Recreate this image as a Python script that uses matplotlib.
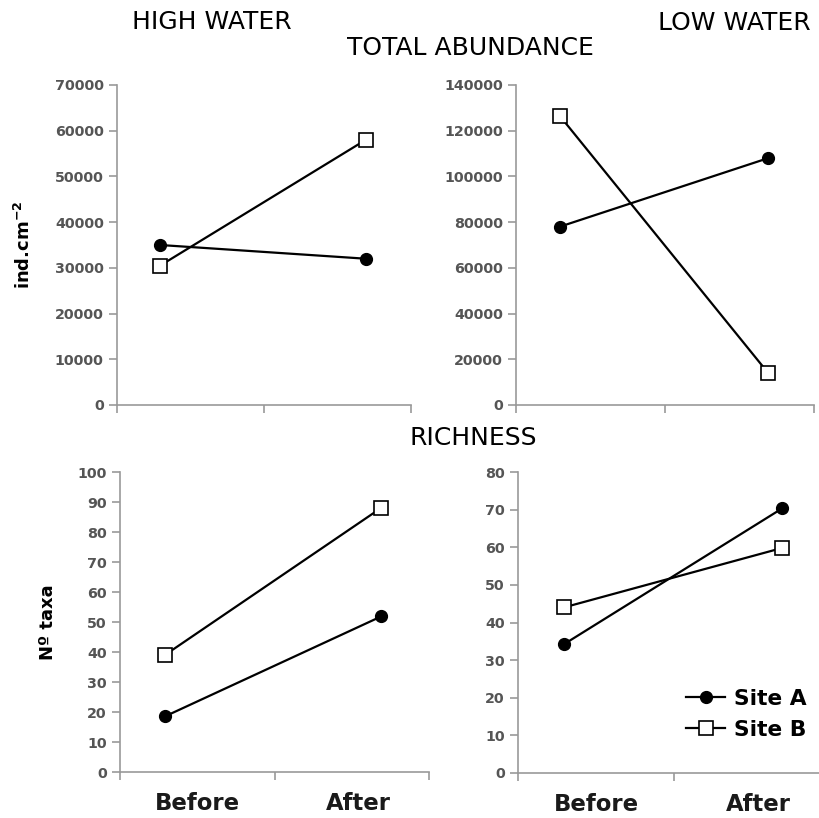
import matplotlib.pyplot as plt
import numpy as np

plt.rcParams['font.family'] = ['DejaVu Sans']

# dados
periods = ['Before', 'After']
abund_high_A = [35000, 32000]
abund_high_B = [30500, 58000]
abund_low_A = [78000, 108000]
abund_low_B = [126500, 14000]
rich_high_A = [18.6, 51.9]
rich_high_B = [39.1, 88.1]
rich_low_A = [34.2, 70.3]
rich_low_B = [44.0, 59.8]

W, H = 819, 818
fig = plt.figure(figsize=(W / 100, H / 100), dpi=100)

def box(l, r, t, b):
    return [l / W, (H - b) / H, (r - l) / W, (b - t) / H]

xs = np.arange(len(periods))
xmin, xmax = -0.21, 1.22
gray = '#999999'

def panel(rect, a, b, ymax, ystep, show_x=False):
    ax = fig.add_axes(rect)
    ax.plot(xs, a, '-o', color='black', lw=1.6, ms=8.5, mfc='black', mec='black', label='Site A', zorder=3)
    ax.plot(xs, b, '-s', color='black', lw=1.6, ms=9.5, mfc='white', mec='black', mew=1.2, label='Site B', zorder=3)
    ax.set_xlim(xmin, xmax)
    ax.set_ylim(0, ymax)
    ax.set_yticks(np.arange(0, ymax + 1, ystep))
    ax.set_xticks([xmin, (xmin + xmax) / 2, xmax])
    ax.set_xticklabels([])
    for s in ['top', 'right']:
        ax.spines[s].set_visible(False)
    for s in ['left', 'bottom']:
        ax.spines[s].set_color(gray)
        ax.spines[s].set_linewidth(1.2)
    ax.tick_params(axis='y', direction='out', length=6, color=gray, width=1.2,
                   labelsize=10.3, labelcolor='#555555')
    ax.tick_params(axis='x', direction='out', length=6, color=gray, width=1.2)
    for t in ax.get_yticklabels():
        t.set_fontweight('bold')
    if show_x:
        for f, lab in zip([0.25, 0.77], periods):
            ax.text(f, -0.105, lab, transform=ax.transAxes, ha='center', va='center',
                    fontsize=16.4, fontweight='bold', color='#1a1a1a')
    ax.patch.set_alpha(0)
    return ax

ax1 = panel(box(117, 411, 85, 405), abund_high_A, abund_high_B, 70000, 10000)
ax2 = panel(box(516, 814, 85, 405), abund_low_A, abund_low_B, 140000, 20000)
ax3 = panel(box(120, 429, 472, 772), rich_high_A, rich_high_B, 100, 10, show_x=True)
ax4 = panel(box(518, 830, 472, 773), rich_low_A, rich_low_B, 80, 10, show_x=True)

ax1.set_ylabel('ind.cm$^{\\mathbf{-2}}$', fontsize=13, fontweight='bold')
ax1.yaxis.set_label_coords((34 - 117) / 294, 0.5)
ax3.set_ylabel('Nº taxa', fontsize=13, fontweight='bold')
ax3.yaxis.set_label_coords((57 - 120) / 309, 0.5)

fig.text(212 / W, 1 - 22 / H, 'HIGH WATER', ha='center', va='center', fontsize=18)
fig.text(734 / W, 1 - 23 / H, 'LOW WATER', ha='center', va='center', fontsize=18)
fig.text(470 / W, 1 - 48 / H, 'TOTAL ABUNDANCE', ha='center', va='center', fontsize=18)
fig.text(473 / W, 1 - 438 / H, 'RICHNESS', ha='center', va='center', fontsize=18)

leg = ax4.legend(loc='upper left', bbox_to_anchor=(686 / W, (H - 689) / H), bbox_transform=fig.transFigure,
                 frameon=False, prop={'size': 15.7, 'weight': 'bold'}, handlelength=1.8,
                 handletextpad=0.4, labelspacing=0.5, borderpad=0, borderaxespad=0)

fig.savefig('out.png', dpi=100)
